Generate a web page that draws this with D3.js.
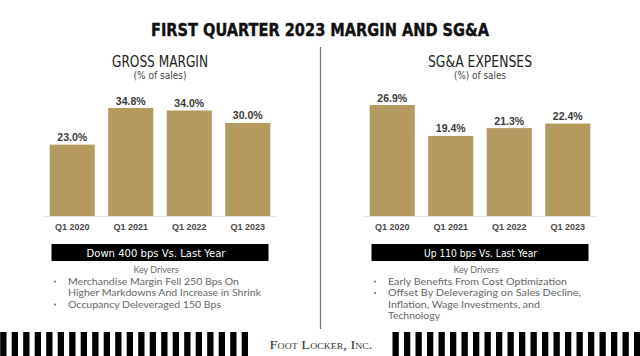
<!DOCTYPE html>
<html>
<head>
<meta charset="utf-8">
<script src="https://cdn.jsdelivr.net/npm/d3@7"></script>
<style>
  html, body { margin: 0; padding: 0; background: #fff; }
  svg { display: block; }
</style>
</head>
<body>
<script>
// ---- Data ----
const categories = ["Q1 2020", "Q1 2021", "Q1 2022", "Q1 2023"];
const grossMargin = [23.0, 34.8, 34.0, 30.0];
const sgaExpenses = [26.9, 19.4, 21.3, 22.4];

const mainTitle = "FIRST QUARTER 2023 MARGIN AND SG&A";
const panelTitles = ["GROSS MARGIN", "SG&A EXPENSES"];
const panelSubtitles = ["(% of sales)", "(%) of sales"];
const boxTexts = ["Down 400 bps Vs. Last Year", "Up 110 bps Vs. Last Year"];
const driversHeading = "Key Drivers";
const leftDrivers = [
  ["Merchandise Margin Fell 250 Bps On", "Higher Markdowns And Increase in Shrink"],
  ["Occupancy Deleveraged 150 Bps"]
];
const rightDrivers = [
  ["Early Benefits From Cost Optimization"],
  ["Offset By Deleveraging on Sales Decline,", "Inflation, Wage Investments, and", "Technology"]
];
const footerText = "Foot Locker, Inc.";

// ---- Drawing ----
const W = 640, H = 356;
const svg = d3.select("body").append("svg").attr("width", W).attr("height", H);

const barColor = "#b49a5e";

// Title
svg.append("text")
  .attr("x", 320).attr("y", 36)
  .attr("text-anchor", "middle")
  .attr("font-family", "'DejaVu Sans Condensed', 'DejaVu Sans', sans-serif")
  .attr("font-weight", "bold")
  .attr("font-size", 18.5)
  .attr("fill", "#111")
  .attr("stroke", "#111").attr("stroke-width", 0.4)
  .attr("textLength", 338)
  .attr("lengthAdjust", "spacingAndGlyphs")
  .text(mainTitle);

// Divider
svg.append("line")
  .attr("x1", 320.5).attr("x2", 320.5)
  .attr("y1", 47).attr("y2", 329)
  .attr("stroke", "#777").attr("stroke-width", 1.3);

const fmt = d => d3.format(".1f")(d) + "%";

const panels = [
  { cx: 160, values: grossMargin, x0: 43, x1: 277, top: 108,
    titleLen: 96, subLen: 53, boxText: boxTexts[0], boxLen: 139, drivers: leftDrivers,
    driverLens: [[171, 193], [153]] },
  { cx: 480, values: sgaExpenses, x0: 363, x1: 597, top: 105,
    titleLen: 104, subLen: 52, boxText: boxTexts[1], boxLen: 113, drivers: rightDrivers,
    driverLens: [[179], [193, 152, 52]] }
];

const baseY = 216;

panels.forEach((p, i) => {
  const g = svg.append("g");

  // Panel title and subtitle
  g.append("text")
    .attr("x", p.cx).attr("y", 67)
    .attr("text-anchor", "middle")
    .attr("font-family", "'DejaVu Sans Condensed', 'Liberation Sans Narrow', sans-serif")
    .attr("font-size", 15.5)
    .attr("fill", "#222")
    .attr("textLength", p.titleLen)
    .attr("lengthAdjust", "spacingAndGlyphs")
    .text(panelTitles[i]);

  g.append("text")
    .attr("x", p.cx).attr("y", 79)
    .attr("text-anchor", "middle")
    .attr("font-family", "'DejaVu Sans Condensed', 'Liberation Sans Narrow', sans-serif")
    .attr("font-size", 10)
    .attr("fill", "#444")
    .attr("textLength", p.subLen)
    .attr("lengthAdjust", "spacingAndGlyphs")
    .text(panelSubtitles[i]);

  // Scales
  const x = d3.scaleBand()
    .domain(categories)
    .range([p.x0, p.x1])
    .paddingInner(0.23)
    .paddingOuter(0.115);
  const y = d3.scaleLinear()
    .domain([0, d3.max(p.values)])
    .range([baseY, p.top]);

  const data = categories.map((c, k) => ({ c, v: p.values[k] }));

  // Bars
  g.selectAll("rect.bar").data(data).enter().append("rect")
    .attr("class", "bar")
    .attr("x", d => x(d.c))
    .attr("width", x.bandwidth())
    .attr("y", d => y(d.v))
    .attr("height", d => y(0) - y(d.v))
    .attr("fill", barColor);

  // Value labels
  g.selectAll("text.val").data(data).enter().append("text")
    .attr("class", "val")
    .attr("x", d => x(d.c) + x.bandwidth() / 2)
    .attr("y", d => y(d.v) - 3.5)
    .attr("text-anchor", "middle")
    .attr("font-family", "'Liberation Sans', Arial, sans-serif")
    .attr("font-weight", "bold")
    .attr("font-size", 10.5)
    .attr("fill", "#3a3a3a")
    .text(d => fmt(d.v));

  // X axis
  const axis = g.append("g")
    .attr("transform", `translate(0,${baseY})`)
    .call(d3.axisBottom(x).tickSize(0).tickPadding(8));
  axis.select(".domain")
    .attr("d", `M${p.x0},0.5H${p.x1}`)
    .attr("stroke", "#e2e2e2").attr("stroke-width", 1);
  axis.selectAll("text")
    .attr("font-family", "'Liberation Sans', Arial, sans-serif")
    .attr("font-weight", "bold")
    .attr("font-size", 9)
    .attr("fill", "#4a4a4a");

  // Black box
  g.append("rect")
    .attr("x", p.cx - 108.5).attr("y", 244)
    .attr("width", 217).attr("height", 17)
    .attr("fill", "#000");
  g.append("text")
    .attr("x", p.cx - 4 + (i === 1 ? 4.5 : 0)).attr("y", 257)
    .attr("text-anchor", "middle")
    .attr("font-family", "'DejaVu Sans Condensed', 'Liberation Sans Narrow', sans-serif")
    .attr("font-size", 11)
    .attr("fill", "#fff")
    .attr("textLength", p.boxLen)
    .attr("lengthAdjust", "spacingAndGlyphs")
    .text(p.boxText);

  // Key drivers
  g.append("text")
    .attr("x", p.cx - 4).attr("y", 273)
    .attr("text-anchor", "middle")
    .attr("font-family", "Lato, 'Open Sans', sans-serif")
    .attr("font-size", 10)
    .attr("fill", "#666")
    .attr("textLength", 45)
    .attr("lengthAdjust", "spacingAndGlyphs")
    .text(driversHeading);

  const left = p.cx - 92;
  let lineY = 284.5;
  p.drivers.forEach((item, j) => {
    g.append("circle")
      .attr("cx", left - 13).attr("cy", lineY - 3)
      .attr("r", 1)
      .attr("fill", "#666");
    item.forEach((ln, k) => {
      g.append("text")
        .attr("x", left).attr("y", lineY)
        .attr("font-family", "Lato, 'Open Sans', sans-serif")
        .attr("font-size", 10)
        .attr("fill", "#666")
        .attr("textLength", p.driverLens[j][k])
        .attr("lengthAdjust", "spacingAndGlyphs")
        .text(ln);
      lineY += 11.5;
    });
  });
});

// Bottom stripes
const stripeW = 6.3, period = 11.5;
const leftStripes = d3.range(22).map(k => 0.2 + k * period);
const rightStripes = d3.range(22).map(k => 392.5 + k * period);
svg.selectAll("rect.stripe").data(leftStripes.concat(rightStripes)).enter().append("rect")
  .attr("class", "stripe")
  .attr("x", d => d).attr("y", 332)
  .attr("width", stripeW).attr("height", 24)
  .attr("fill", "#000");

// Footer
svg.append("text")
  .attr("x", 321).attr("y", 348.5)
  .attr("text-anchor", "middle")
  .attr("font-family", "'Liberation Serif', 'DejaVu Serif', serif")
  .attr("font-size", 12)
  .attr("font-variant", "small-caps")
  .attr("fill", "#333")
  .attr("textLength", 103)
  .attr("lengthAdjust", "spacingAndGlyphs")
  .text(footerText);
</script>
</body>
</html>
